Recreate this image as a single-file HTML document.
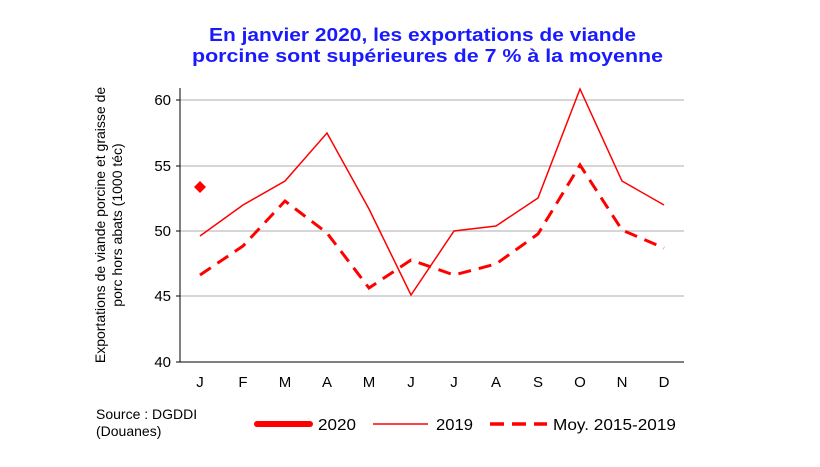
<!DOCTYPE html>
<html><head><meta charset="utf-8"><style>
body{margin:0;background:#fff;}
svg text{font-family:"Liberation Sans",Arial,sans-serif;}
</style></head><body>
<svg width="820" height="462" viewBox="0 0 820 462" xmlns="http://www.w3.org/2000/svg">
<rect width="820" height="462" fill="#fff"/>
<text x="209" y="41" font-size="18" font-weight="bold" fill="#1a1aff" textLength="427" lengthAdjust="spacingAndGlyphs">En janvier 2020, les exportations de viande</text>
<text x="192" y="62" font-size="18" font-weight="bold" fill="#1a1aff" textLength="471" lengthAdjust="spacingAndGlyphs">porcine sont supérieures de 7 % à la moyenne</text>
<g stroke="#c8c8c8" stroke-width="1.5">
<line x1="180" y1="100" x2="684" y2="100"/>
<line x1="180" y1="166" x2="684" y2="166"/>
<line x1="180" y1="231" x2="684" y2="231"/>
<line x1="180" y1="296" x2="684" y2="296"/>
</g>
<line x1="180" y1="362" x2="684" y2="362" stroke="#000" stroke-width="1"/>
<line x1="180" y1="88" x2="180" y2="362" stroke="#000" stroke-width="1"/>
<g stroke="#000"><line x1="176" y1="100" x2="180" y2="100"/><line x1="176" y1="166" x2="180" y2="166"/><line x1="176" y1="231" x2="180" y2="231"/><line x1="176" y1="296" x2="180" y2="296"/><line x1="176" y1="362" x2="180" y2="362"/></g>
<g font-size="15" text-anchor="end" fill="#000">
<text x="171" y="105">60</text><text x="171" y="171">55</text><text x="171" y="236">50</text><text x="171" y="301">45</text><text x="171" y="367">40</text>
</g>
<g font-size="15" text-anchor="middle" fill="#000">
<text x="200" y="387">J</text><text x="243" y="387">F</text><text x="285" y="387">M</text><text x="327" y="387">A</text><text x="369" y="387">M</text><text x="411" y="387">J</text><text x="454" y="387">J</text><text x="496" y="387">A</text><text x="538" y="387">S</text><text x="580" y="387">O</text><text x="622" y="387">N</text><text x="664" y="387">D</text>
</g>
<text transform="translate(105,225) rotate(-90)" font-size="14" text-anchor="middle">Exportations de viande porcine et graisse de</text>
<text transform="translate(122,225) rotate(-90)" font-size="14" text-anchor="middle">porc hors abats (1000 téc)</text>
<polyline fill="none" stroke="#f00" stroke-width="1.5" points="200,236 243,205 285,181 327,133 369,209 411,295 454,231 496,226 538,198 580,89 622,181 664,205"/>
<polyline fill="none" stroke="#f00" stroke-width="3" stroke-dasharray="13,8" points="200,275 243,246 285,201 327,233 369,288 411,260 454,275 496,264 538,234 580,165 622,230 664,248"/>
<polygon points="200,181 206,187 200,193 194,187" fill="#f00"/>
<text x="96" y="419" font-size="14">Source : DGDDI</text>
<text x="96" y="436" font-size="14">(Douanes)</text>
<line x1="257" y1="424" x2="310" y2="424" stroke="#f00" stroke-width="6" stroke-linecap="round"/>
<text x="318" y="430" font-size="16" textLength="38" lengthAdjust="spacingAndGlyphs">2020</text>
<line x1="373" y1="424" x2="428" y2="424" stroke="#f00" stroke-width="1.5"/>
<text x="436" y="430" font-size="16" textLength="37" lengthAdjust="spacingAndGlyphs">2019</text>
<line x1="490" y1="424" x2="547" y2="424" stroke="#f00" stroke-width="3.5" stroke-dasharray="14,8"/>
<text x="553" y="430" font-size="16" textLength="123" lengthAdjust="spacingAndGlyphs">Moy. 2015-2019</text>
</svg>
</body></html>
